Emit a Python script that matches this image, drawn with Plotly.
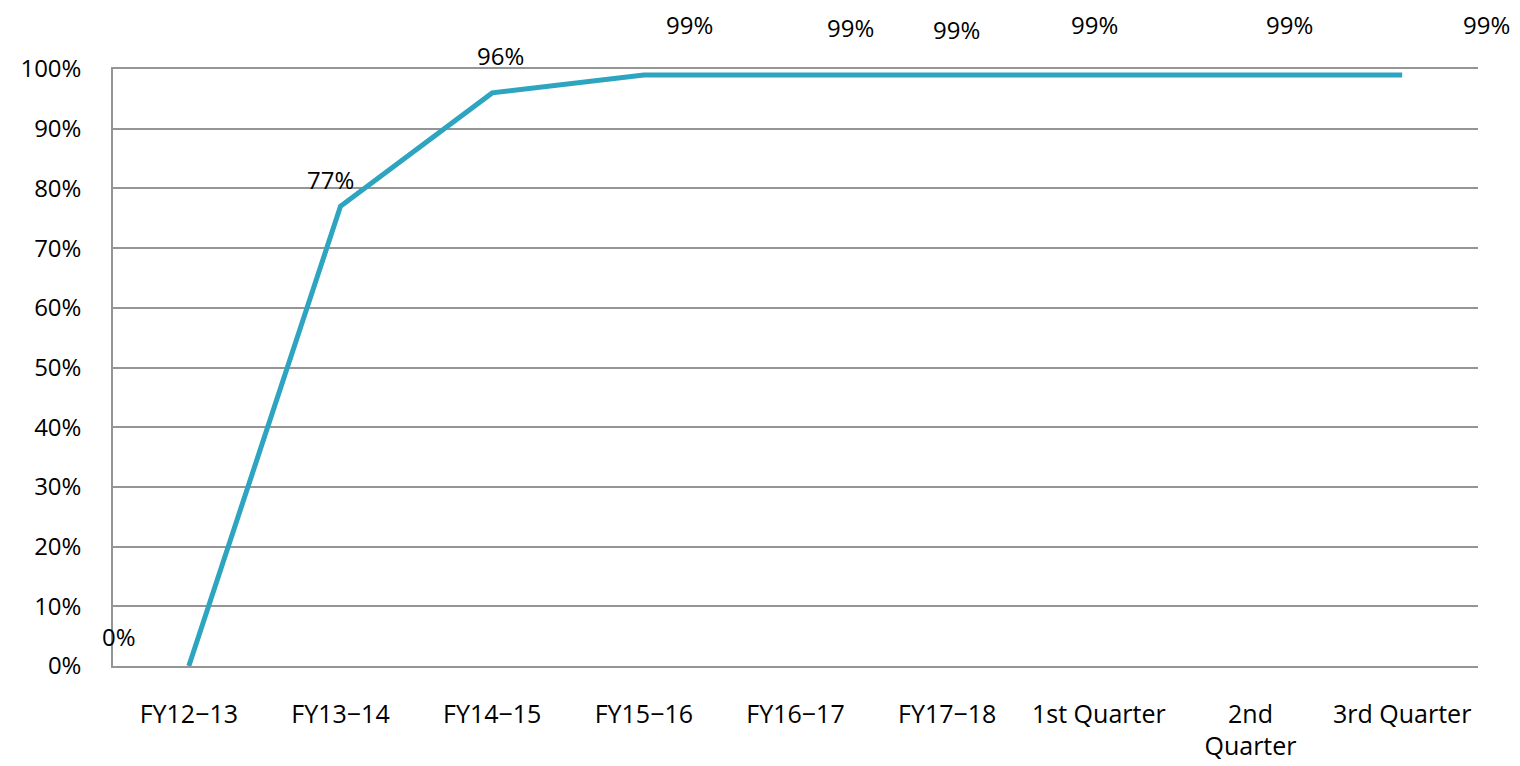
import plotly.graph_objects as go

categories = ["FY12−13", "FY13−14", "FY14−15", "FY15−16", "FY16−17", "FY17−18",
              "1st Quarter", "2nd<br>Quarter", "3rd Quarter"]
values = [0.00, 0.77, 0.96, 0.99, 0.99, 0.99, 0.99, 0.99, 0.99]
value_labels = ["0%", "77%", "96%", "99%", "99%", "99%", "99%", "99%", "99%"]
label_dx = [-70, -10, 8, 46, 55, 9, -4, 39, 84]
label_dy = [30, 27, 37, 50, 47, 45, 50, 50, 50]

FONT = "Open Sans"
GRID = "#959595"
fig = go.Figure()
fig.add_trace(go.Scatter(x=categories, y=values, mode="lines",
                         line=dict(color="#2DA4C0", width=5),
                         hoverinfo="skip", cliponaxis=False))

for c, v, t, dx, dy in zip(categories, values, value_labels, label_dx, label_dy):
    fig.add_annotation(x=c, y=v, text=t, showarrow=False, xshift=dx, yshift=dy,
                       font=dict(family=FONT, size=24, color="#000"))

fig.update_layout(
    width=1520, height=766,
    margin=dict(l=100, r=50, t=61, b=104),
    plot_bgcolor="white", paper_bgcolor="white",
    showlegend=False,
    font=dict(family=FONT, size=24, color="#000"),
)
fig.update_xaxes(type="category", range=[-0.5, 8.5], showgrid=False,
                 showline=True, mirror=True, linecolor=GRID, linewidth=1.5,
                 zeroline=False, ticks="", ticklabelstandoff=25,
                 tickfont=dict(size=25))
fig.update_yaxes(range=[0, 1], dtick=0.1, tickformat=".0%", showgrid=True,
                 gridcolor=GRID, gridwidth=1.5, showline=True, linecolor=GRID,
                 linewidth=1.5, zeroline=False, ticks="", ticklabelstandoff=25,
                 tickfont=dict(size=24))

fig.write_html("out.html")
